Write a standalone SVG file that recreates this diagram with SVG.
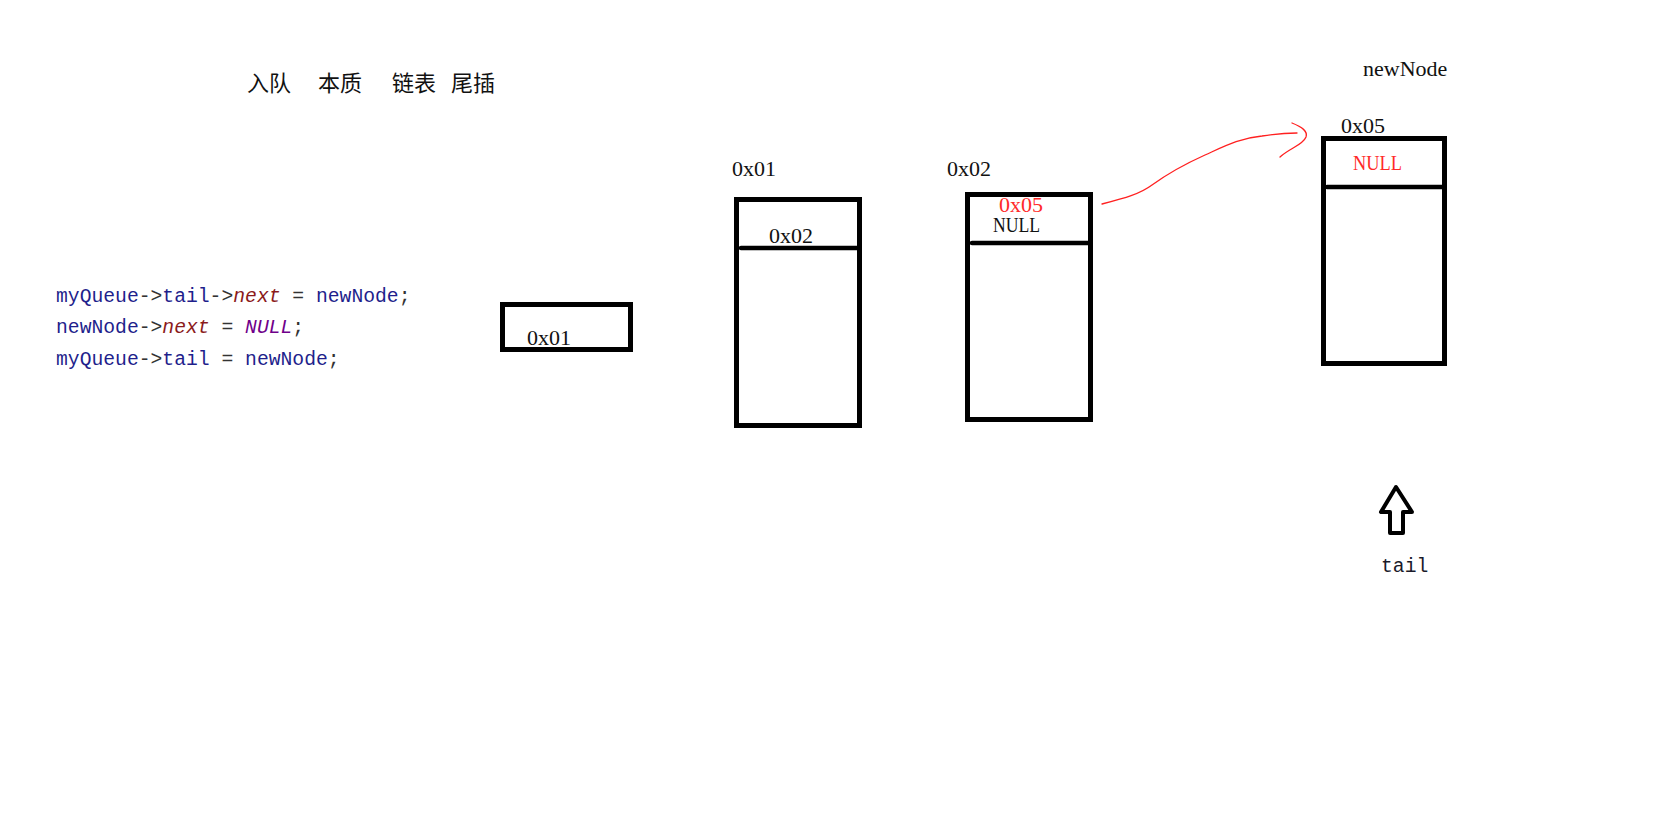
<svg xmlns="http://www.w3.org/2000/svg" width="1674" height="830" viewBox="0 0 1674 830">
<style>
.bg{fill:#fff}
.box{fill:none;stroke:#000;stroke-width:5}
.div{stroke:#000;stroke-width:4.5;stroke-linecap:round}
.lbl{font-family:"Liberation Serif","Times New Roman",serif;font-size:22px;fill:#111}
.red{fill:#ff2a2a}
.title{font-family:"Noto Sans CJK SC","Noto Sans",sans-serif;font-size:22px;fill:#111}
.code{font-family:"Liberation Mono","Courier New",monospace;font-size:19.7px;fill:#1f1f8c}
.op{fill:#333}
.mem{fill:#8b1a1a;font-style:italic}
.mac{fill:#6f008a;font-style:italic}
.conn{fill:none;stroke:#ff2020;stroke-width:1.3;stroke-linecap:round;stroke-linejoin:round}
</style>
<rect class="bg" width="1674" height="830"/>
<g id="title">
<text class="title" y="91"><tspan x="247">入队</tspan><tspan x="318">本质</tspan><tspan x="392">链表</tspan><tspan x="451">尾插</tspan></text>
</g>
<g id="code" class="code">
<text x="56" y="302">myQueue<tspan class="op">-&gt;</tspan>tail<tspan class="op">-&gt;</tspan><tspan class="mem">next</tspan><tspan class="op"> = </tspan>newNode<tspan class="op">;</tspan></text>
<text x="56" y="333">newNode<tspan class="op">-&gt;</tspan><tspan class="mem">next</tspan><tspan class="op"> = </tspan><tspan class="mac">NULL</tspan><tspan class="op">;</tspan></text>
<text x="56" y="365">myQueue<tspan class="op">-&gt;</tspan>tail<tspan class="op"> = </tspan>newNode<tspan class="op">;</tspan></text>
</g>
<g id="ptr">
<rect class="box" x="502.5" y="304.5" width="128" height="45"/>
<text class="lbl" x="527" y="345">0x01</text>
</g>
<g id="node1">
<text class="lbl" x="732" y="176">0x01</text>
<rect class="box" x="736.5" y="199.5" width="123" height="226"/>
<line class="div" x1="741" y1="248" x2="859" y2="248"/>
<text class="lbl" x="769" y="243">0x02</text>
</g>
<g id="node2">
<text class="lbl" x="947" y="176">0x02</text>
<rect class="box" x="967.5" y="194.5" width="123" height="225"/>
<line class="div" x1="972" y1="243" x2="1090" y2="243"/>
<text class="lbl red" x="999" y="212">0x05</text>
<text class="lbl" x="993" y="232" textLength="47" lengthAdjust="spacingAndGlyphs">NULL</text>
</g>
<g id="newNode">
<text class="lbl" x="1363" y="76">newNode</text>
<text class="lbl" x="1341" y="133">0x05</text>
<rect class="box" x="1323.5" y="138.5" width="121" height="225"/>
<line class="div" x1="1327" y1="187" x2="1444" y2="187"/>
<text class="lbl red" x="1353" y="170" textLength="49" lengthAdjust="spacingAndGlyphs">NULL</text>
</g>
<g id="tailPtr">
<path d="M1396 487 L1381 512 L1390 512 L1390 533 L1403 533 L1403 512 L1412 512 Z" fill="none" stroke="#000" stroke-width="4" stroke-linejoin="round"/>
<text class="code" style="fill:#1a1a2a" x="1381" y="572">tail</text>
</g>
<g id="connectors">
<path class="conn" d="M1102 204 C1125 198 1140 194 1152 185 C1170 172 1185 164 1205 155 C1225 146 1240 138 1262 136 C1275 134 1288 133 1297 133"/>
<path class="conn" d="M1292 123 C1302 127 1308 131 1306 137 C1303 145 1290 148 1280 157"/>
</g>
</svg>
